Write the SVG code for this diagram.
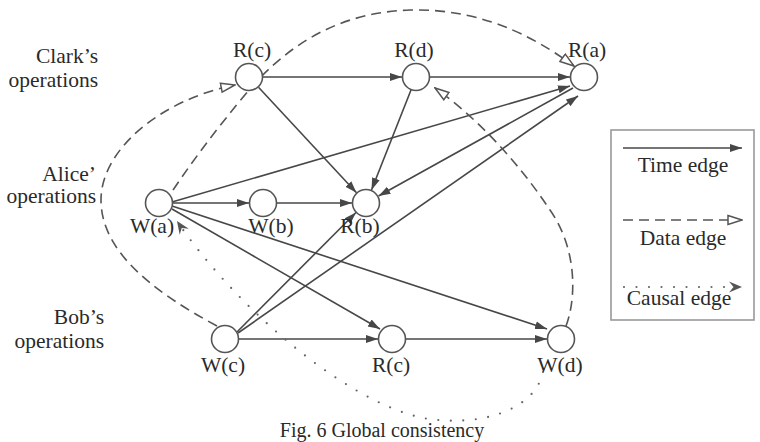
<svg xmlns="http://www.w3.org/2000/svg" width="760" height="442" viewBox="0 0 760 442">
<style>
text{font-family:"Liberation Serif","Times New Roman",serif;font-size:21.5px;fill:#2a2a2a}
.lbl{text-anchor:middle}
.side{text-anchor:end}
.node{fill:#fff;stroke:#555;stroke-width:1.6}
.time{fill:none;stroke:#474747;stroke-width:1.6;marker-end:url(#mt)}
.data{fill:none;stroke:#555;stroke-width:1.6;stroke-dasharray:10 6;marker-end:url(#md)}
.causal{fill:none;stroke:#666;stroke-width:2.2;stroke-linecap:round;stroke-dasharray:0 12.5;marker-end:url(#mc)}
</style>
<defs>
<marker id="mt" viewBox="0 0 12 10" refX="12" refY="5" markerWidth="12" markerHeight="10" markerUnits="userSpaceOnUse" orient="auto"><path d="M0,1 L12,5 L0,9 z" fill="#474747"/></marker>
<marker id="md" viewBox="0 0 16 12" refX="15" refY="6" markerWidth="16" markerHeight="12" markerUnits="userSpaceOnUse" orient="auto"><path d="M1,1.5 L15,6 L1,10.5 z" fill="#fff" stroke="#555" stroke-width="1.5"/></marker>
<marker id="mc" viewBox="0 0 14 12" refX="13" refY="6" markerWidth="14" markerHeight="12" markerUnits="userSpaceOnUse" orient="auto"><path d="M0,0.5 L13,6 L0,11.5 L4.5,6 z" fill="#555"/></marker>
</defs>
<rect width="760" height="442" fill="#fff"/>

<g id="side-labels">
<text class="side" x="98" y="63">Clark’s</text>
<text class="side" x="98" y="87">operations</text>
<text class="side" x="96" y="181">Alice’</text>
<text class="side" x="96" y="203">operations</text>
<text class="side" x="104" y="324">Bob’s</text>
<text class="side" x="104" y="348">operations</text>
</g>

<g id="connectors">
<!-- time edges -->
<line class="time" x1="263" y1="77" x2="402" y2="77"/>
<line class="time" x1="430" y1="77" x2="570" y2="77"/>
<line class="time" x1="258.5" y1="87.3" x2="356.5" y2="192.7"/>
<line class="time" x1="411" y1="90" x2="371.5" y2="190"/>
<line class="time" x1="573" y1="88" x2="378.5" y2="196"/>
<line class="time" x1="172" y1="202" x2="570" y2="86"/>
<line class="time" x1="173" y1="203" x2="249" y2="203"/>
<line class="time" x1="277" y1="203" x2="352" y2="203"/>
<line class="time" x1="172" y1="209" x2="380" y2="329"/>
<line class="time" x1="172" y1="206" x2="547" y2="329"/>
<line class="time" x1="237" y1="332" x2="356" y2="212.5"/>
<line class="time" x1="238" y1="333" x2="578" y2="96"/>
<line class="time" x1="239" y1="339" x2="378" y2="339"/>
<line class="time" x1="406" y1="339" x2="547" y2="339"/>
<!-- data edges -->
<path class="data" d="M217 326 C150 290 101 250 101 200 C101 150 160 100 235 85"/>
<path class="data" d="M173 190 C200 150 230 112 256 82 C300 35 350 12 410 10 C490 8 545 45 574 66"/>
<path class="data" d="M566 326 C576 300 578 250 550 210 C520 165 480 120 435 88"/>
<!-- causal edge -->
<path class="causal" d="M543 372 C535 410 480 428 423 418 C340 400 230 300 177 221"/>
</g>

<g id="n-Rc1"><circle class="node" cx="249" cy="77" r="13.5"/><text class="lbl" x="252" y="57">R(c)</text></g>
<g id="n-Rd"><circle class="node" cx="416" cy="77" r="13.5"/><text class="lbl" x="414" y="57">R(d)</text></g>
<g id="n-Ra"><circle class="node" cx="584" cy="77" r="13.5"/><text class="lbl" x="587" y="57">R(a)</text></g>
<g id="n-Wa"><circle class="node" cx="159" cy="203" r="13.5"/><text class="lbl" x="152" y="233">W(a)</text></g>
<g id="n-Wb"><circle class="node" cx="263" cy="203" r="13.5"/><text class="lbl" x="271" y="233">W(b)</text></g>
<g id="n-Rb"><circle class="node" cx="366" cy="203" r="13.5"/><text class="lbl" x="360" y="233">R(b)</text></g>
<g id="n-Wc"><circle class="node" cx="225" cy="339" r="13.5"/><text class="lbl" x="223" y="372">W(c)</text></g>
<g id="n-Rc2"><circle class="node" cx="392" cy="339" r="13.5"/><text class="lbl" x="391" y="372">R(c)</text></g>
<g id="n-Wd"><circle class="node" cx="561" cy="339" r="13.5"/><text class="lbl" x="560" y="372">W(d)</text></g>

<g id="legend">
<rect x="611" y="130" width="143" height="190" fill="#fff" stroke="#999" stroke-width="1.6"/>
<line class="time" x1="623" y1="148" x2="742" y2="148"/>
<text class="lbl" x="683" y="172">Time edge</text>
<line class="data" x1="623" y1="220" x2="742" y2="220"/>
<text class="lbl" x="683" y="245">Data edge</text>
<line class="causal" x1="624" y1="287" x2="742" y2="287"/>
<text class="lbl" x="679" y="305">Causal edge</text>
</g>

<text id="caption" class="lbl" x="382" y="437" style="font-size:20px">Fig. 6 Global consistency</text>
</svg>
